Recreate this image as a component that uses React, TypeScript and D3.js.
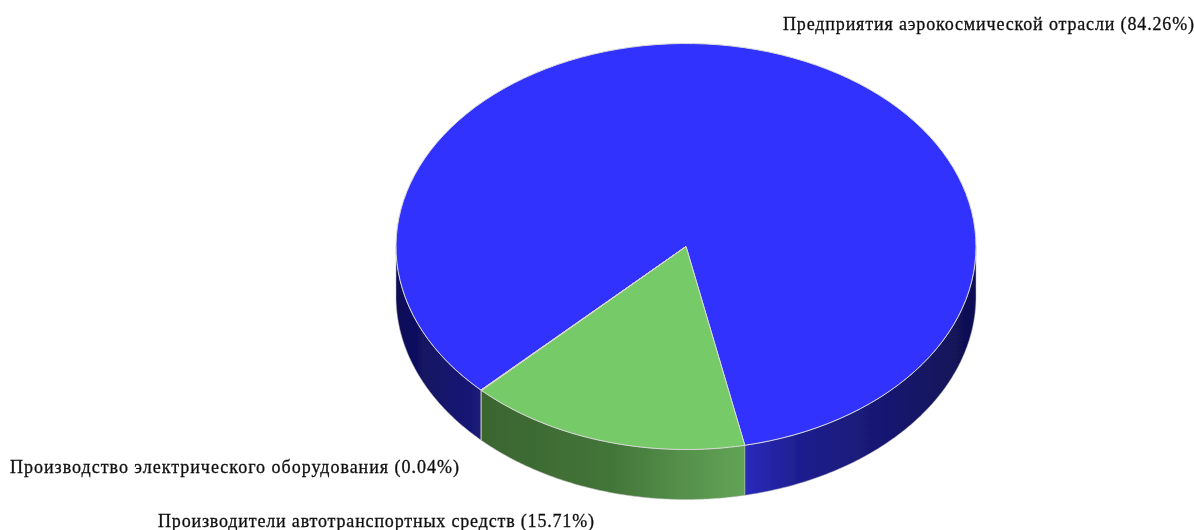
import React from "react";
import * as d3 from "d3";

const categories = ["Предприятия аэрокосмической отрасли", "Производители автотранспортных средств", "Производство электрического оборудования"];
const shares = [84.26, 15.71, 0.04];
const labelTexts = ["Предприятия аэрокосмической отрасли (84.26%)", "Производители автотранспортных средств (15.71%)", "Производство электрического оборудования (0.04%)"];
const topColors = ["#3333ff", "#76cb68", "#dddd33"];
const sideStops = [
  [["0", "#0e0e58"], ["0.14", "#1a1a78"], ["0.6", "#2a2abc"], ["0.7", "#1e1e8e"], ["0.87", "#17176c"], ["1", "#101052"]],
  [["0", "#3a652f"], ["0.5", "#437539"], ["0.75", "#548f4a"], ["1", "#62a456"]],
  [["0", "#66661a"], ["1", "#66661a"]],
];
const labelAnchors = [[783, 30], [158, 527], [10, 473]];
const labelWidths = [411, 436, 449];

const W = 1194, H = 530;
const cx = 686, cy = 246.5, rx = 290, ry = 203, depth = 50;

export default function App() {
  const pie = d3.pie<number>().sort(null).startAngle((225 * Math.PI) / 180).endAngle((585 * Math.PI) / 180);
  const arcs = pie(shares);
  const pt = (a: number, dy = 0): [number, number] => [cx + rx * Math.sin(a), cy - ry * Math.cos(a) + dy];
  const wedge = (s: number, e: number) => {
    const p = d3.path();
    p.moveTo(cx, cy);
    const n = 120;
    d3.range(n + 1).forEach(i => { const [x, y] = pt(s + ((e - s) * i) / n); p.lineTo(x, y); });
    p.closePath();
    return p.toString();
  };
  const wall = (s: number, e: number) => {
    const parts: string[] = [];
    [Math.PI / 2, Math.PI / 2 + 2 * Math.PI].forEach(lo => {
      const a = Math.max(s, lo), b = Math.min(e, lo + Math.PI);
      if (b <= a) return;
      const n = 100;
      const ts = d3.range(n + 1).map(i => a + ((b - a) * i) / n);
      const p = d3.path();
      ts.forEach((t, i) => { const [x, y] = pt(t); i ? p.lineTo(x, y) : p.moveTo(x, y); });
      ts.slice().reverse().forEach(t => { const [x, y] = pt(t, depth); p.lineTo(x, y); });
      p.closePath();
      parts.push(p.toString());
    });
    return parts.join(" ");
  };
  return (
    <svg width={W} height={H} style={{ position: "absolute", left: 0, top: 0, background: "#fff" }}>
      <defs>
        {sideStops.map((st, i) => (
          <linearGradient key={i} id={`side${i}`} gradientUnits="userSpaceOnUse"
            x1={i === 1 ? 481 : cx - rx} x2={i === 1 ? 745 : cx + rx} y1={0} y2={0}>
            {st.map(([o, c]) => <stop key={o} offset={o} stopColor={c} />)}
          </linearGradient>
        ))}
        <filter id="soft" x="-5%" y="-5%" width="110%" height="110%">
          <feGaussianBlur stdDeviation="0.55" />
        </filter>
      </defs>
      <g filter="url(#soft)">
        {arcs.map((a, i) => (
          <path key={"w" + i} d={wall(a.startAngle, a.endAngle)} fill={`url(#side${i})`} stroke="#b8b8b8" strokeWidth={0.5} data-name={categories[i]} />
        ))}
        {arcs.map((a, i) => (
          <path key={"t" + i} d={wedge(a.startAngle, a.endAngle)} fill={topColors[i]} stroke="#d8d8d8" strokeWidth={1} />
        ))}
        {labelTexts.map((t, i) => (
          <text key={t} x={labelAnchors[i][0]} y={labelAnchors[i][1]} textLength={labelWidths[i]} lengthAdjust="spacing"
            fontFamily="'Liberation Serif', serif" fontSize={18} fill="#111" stroke="#111" strokeWidth={0.3}>{t}</text>
        ))}
      </g>
    </svg>
  );
}
